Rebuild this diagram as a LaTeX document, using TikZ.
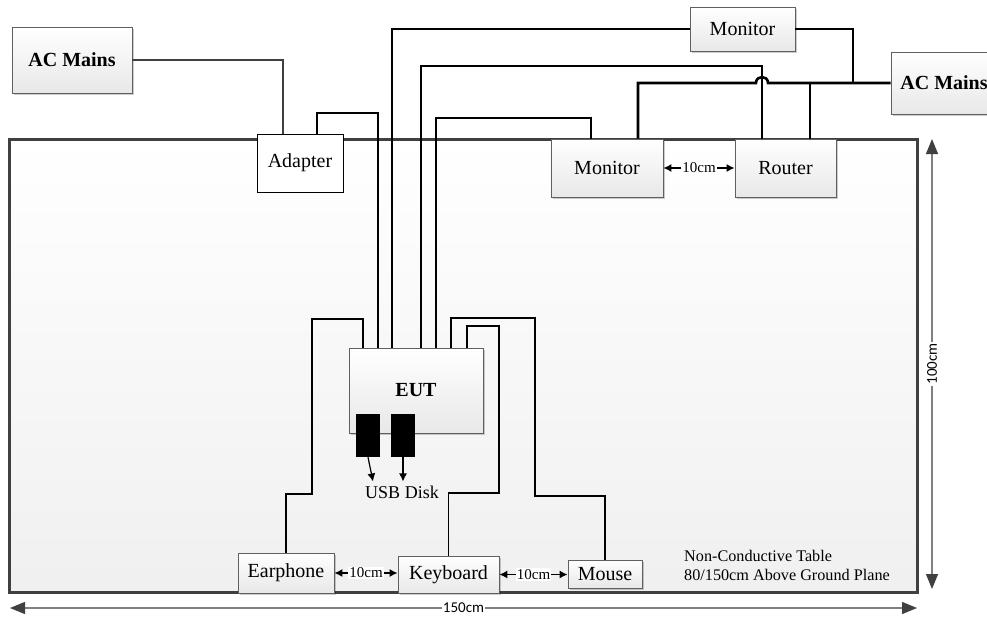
\documentclass[tikz,border=0pt]{standalone}
\usepackage{fontspec}
\setmainfont{Liberation Serif}
\newfontfamily\dimfont{Carlito}
\usetikzlibrary{arrows.meta,shadows,calc}
\definecolor{rim}{HTML}{404040}
\definecolor{dimline}{HTML}{808080}
\tikzset{
  unit/.style={draw=gray!75!black, line width=0.8pt, top color=white, bottom color=gray!18,
    inner sep=0pt, drop shadow={shadow xshift=2pt, shadow yshift=-2pt, fill=black, opacity=.2},
    font=\fontsize{20}{23}\selectfont},
  mains/.style={unit, font=\fontsize{20}{23}\selectfont\bfseries},
  plainbox/.style={draw, fill=white, line width=1pt, inner sep=0pt, font=\fontsize{20}{23}\selectfont},
  desk/.style={draw=rim, line width=3pt, top color=white, bottom color=gray!12,
    drop shadow={shadow xshift=2pt, shadow yshift=-2pt, fill=black, opacity=.12}},
  disk/.style={fill=black, minimum width=24pt, minimum height=43pt, inner sep=0pt},
  cable/.style={line width=1.6pt},
  power/.style={line width=2.6pt},
  tag/.style={fill=white, inner sep=1pt, font=\fontsize{15}{17}\selectfont},
  gaparrow/.style={line width=1.3pt, {Latex[length=8pt,width=8pt]}-{Latex[length=8pt,width=8pt]}},
  dimarrow/.style={dimline, line width=1.2pt,
    {Triangle[length=15pt,width=12pt,color=rim]}-{Triangle[length=15pt,width=12pt,color=rim]}},
  dimtag/.style={fill=white, text=black, inner sep=1pt, font=\dimfont\fontsize{15}{17}\selectfont}
}
\newcommand{\gapline}[2]{
  \draw[gaparrow] (#1.east) -- node[tag] {10cm} (#1.east -| #2.west);% 10cm spacing
}

\begin{document}
\begin{tikzpicture}[x=1pt,y=-1pt]
  \useasboundingbox (0,0) rectangle (987,618);

  % table
  \node[desk, minimum width=908pt, minimum height=453pt] (table) at (463,365.5) {};
  \node[anchor=west, align=left, inner sep=0pt, font=\fontsize{16.2}{19}\selectfont] (note) at (684,565)
    {Non-Conductive Table\\80/150cm Above Ground Plane};

  % units
  \node[mains, minimum width=120pt, minimum height=66pt] (acL) at (72,60) {AC Mains};
  \node[mains, minimum width=106pt, minimum height=62pt] (acR) at (944,83) {AC Mains};
  \node[unit, minimum width=105pt, minimum height=44pt] (monT) at (742.5,29) {Monitor};
  \node[unit, minimum width=112pt, minimum height=58pt] (monB) at (607,168) {Monitor};
  \node[unit, minimum width=101pt, minimum height=58pt] (router) at (785.5,168) {Router};
  \node[plainbox, minimum width=86pt, minimum height=58pt] (adapter) at (300,163) {Adapter};
  \node[mains, minimum width=134pt, minimum height=85pt] (eut) at (416,390.5) {EUT};
  \node[unit, minimum width=96pt, minimum height=40pt] (earph) at (286,573) {Earphone};
  \node[unit, minimum width=101pt, minimum height=37pt] (kbd) at (448.5,574.5) {Keyboard};
  \node[unit, minimum width=74pt, minimum height=28pt] (mouse) at (605,574) {Mouse};

  % usb disks
  \node[disk] (usb1) at (368,435.5) {};
  \node[disk] (usb2) at (403,435.5) {};
  \node[inner sep=0pt, font=\fontsize{18}{20}\selectfont] (usbl) at (402,492) {USB Disk};
  \draw[line width=1.2pt, -{Latex[length=8pt,width=8pt]}] (usb1.south) -- ($(usb1.south |- usbl.north)+(5,-4)$);
  \draw[line width=1.2pt, -{Latex[length=8pt,width=8pt]}] (usb2.south) -- ($(usb2.south |- usbl.north)+(0,-4)$);

  % mains wiring
  \coordinate (tapR) at (810,83);
  \coordinate (tapM) at (853,83);
  \draw[rim, line width=2.4pt] (acL.east) -| (adapter.north -| 283,0);
  \draw[power] (acR.west) -- (768,83) .. controls (768,75) and (756,75) .. (756,83)
    -| (monB.north -| 638,0);
  \draw[cable] (tapR) -- (router.north -| tapR);
  \draw[cable] (monT.east) -| (tapM);

  % eut cables
  \draw[cable] (adapter.north -| 317,0) |- (378,113) -- (eut.north -| 378,0);
  \draw[cable] (eut.north -| 392,0) |- (monT.west);
  \draw[cable] (eut.north -| 421,0) |- (762,66) -- (router.north -| 762,0);
  \draw[cable] (eut.north -| 436,0) |- (591,118) -- (monB.north -| 591,0);
  \draw[cable] (eut.north -| 363,0) |- (312,319) |- (286,494) -- (earph.north);
  \draw[cable] (eut.north -| 467,0) |- (499,326) |- (448.5,493) -- (kbd.north);
  \draw[cable] (eut.north -| 451,0) |- (535,318) |- (605,496) -- (mouse.north);

  % spacing
  \gapline{monB}{router}
  \gapline{earph}{kbd}
  \gapline{kbd}{mouse}

  % dimensions
  \coordinate (wL) at (10,608);
  \coordinate (wR) at (917,608);
  \coordinate (hT) at (932,139);
  \coordinate (hB) at (932,589);
  \draw[dimarrow] (wL) -- node[dimtag] {150cm} (wR);
  \draw[dimarrow] (hT) -- node[dimtag, rotate=90] {100cm} (hB);
\end{tikzpicture}
\end{document}
